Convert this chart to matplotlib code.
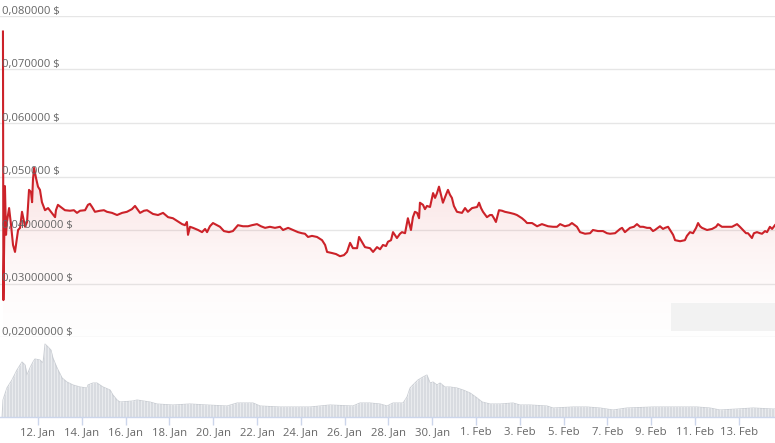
import numpy as np
import matplotlib
matplotlib.use('Agg')
import matplotlib.pyplot as plt
from matplotlib.colors import LinearSegmentedColormap
from matplotlib.patches import Rectangle

plt.rcParams['font.family'] = ['Open Sans', 'DejaVu Sans']

# time axis: days counted from 12 Jan 00:00
price_days = [-1.60, -1.58, -1.51, -1.46, -1.42, -1.32, -1.23, -1.14, -1.05, -0.91,
              -0.82, -0.73, -0.59, -0.50, -0.41, -0.32, -0.27, -0.23, -0.18, -0.09,
              0.00, 0.09, 0.18, 0.32, 0.46, 0.59, 0.78, 0.82, 0.91, 1.10,
              1.23, 1.46, 1.64, 1.78, 1.92, 2.15, 2.28, 2.37, 2.47, 2.60,
              2.83, 3.01, 3.15, 3.38, 3.61, 3.84, 4.06, 4.29, 4.43, 4.66,
              4.84, 4.98, 5.25, 5.48, 5.71, 5.94, 6.16, 6.35, 6.58, 6.71,
              6.80, 6.85, 6.94, 7.08, 7.31, 7.49, 7.63, 7.72, 7.85, 7.99,
              8.17, 8.31, 8.49, 8.72, 8.90, 9.13, 9.36, 9.59, 9.77, 10.00,
              10.18, 10.37, 10.59, 10.82, 11.05, 11.19, 11.42, 11.64, 11.87, 12.05,
              12.19, 12.33, 12.51, 12.74, 12.97, 13.11, 13.20, 13.42, 13.61, 13.79,
              13.97, 14.11, 14.25, 14.38, 14.57, 14.66, 14.79, 14.93, 15.16, 15.30,
              15.48, 15.62, 15.75, 15.89, 15.98, 16.12, 16.21, 16.39, 16.53, 16.62,
              16.76, 16.89, 17.03, 17.12, 17.21, 17.31, 17.40, 17.44, 17.58, 17.67,
              17.76, 17.90, 18.04, 18.13, 18.22, 18.31, 18.40, 18.49, 18.63, 18.72,
              18.81, 18.90, 18.99, 19.13, 19.36, 19.50, 19.63, 19.82, 20.05, 20.14,
              20.23, 20.32, 20.50, 20.64, 20.73, 20.82, 20.91, 21.05, 21.19, 21.32,
              21.55, 21.74, 21.87, 22.10, 22.24, 22.33, 22.56, 22.79, 23.01, 23.29,
              23.52, 23.70, 23.84, 24.06, 24.25, 24.38, 24.61, 24.75, 24.98, 25.21,
              25.34, 25.57, 25.80, 25.98, 26.12, 26.35, 26.58, 26.67, 26.80, 27.03,
              27.21, 27.35, 27.49, 27.63, 27.81, 27.95, 28.08, 28.17, 28.40, 28.54,
              28.63, 28.77, 28.86, 29.00, 29.09, 29.32, 29.54, 29.63, 29.77, 29.91,
              30.05, 30.14, 30.23, 30.32, 30.55, 30.78, 30.96, 31.05, 31.23, 31.46,
              31.69, 31.92, 32.05, 32.19, 32.33, 32.42, 32.60, 32.69, 32.83, 32.97,
              33.06, 33.20, 33.29, 33.42, 33.52, 33.65]
price = [0.0771, 0.0269, 0.0482, 0.0391, 0.0415, 0.0441, 0.0409, 0.0372, 0.0359, 0.0400,
         0.0404, 0.0434, 0.0406, 0.0415, 0.0475, 0.0471, 0.0452, 0.0494, 0.0516, 0.0497,
         0.0481, 0.0475, 0.0452, 0.0437, 0.0441, 0.0434, 0.0424, 0.0437, 0.0447, 0.0441,
         0.0437, 0.0436, 0.0437, 0.0432, 0.0436, 0.0437, 0.0447, 0.0449, 0.0443, 0.0434,
         0.0436, 0.0437, 0.0434, 0.0432, 0.0428, 0.0432, 0.0434, 0.0439, 0.0445, 0.0432,
         0.0436, 0.0437, 0.0430, 0.0428, 0.0432, 0.0424, 0.0422, 0.0417, 0.0411, 0.0409,
         0.0415, 0.0391, 0.0406, 0.0404, 0.0400, 0.0396, 0.0402, 0.0396, 0.0407, 0.0413,
         0.0409, 0.0406, 0.0398, 0.0396, 0.0398, 0.0409, 0.0407, 0.0407, 0.0409, 0.0411,
         0.0407, 0.0404, 0.0406, 0.0404, 0.0406, 0.0400, 0.0404, 0.0400, 0.0396, 0.0394,
         0.0393, 0.0387, 0.0389, 0.0387, 0.0381, 0.0372, 0.0359, 0.0357, 0.0355, 0.0351,
         0.0353, 0.0359, 0.0376, 0.0366, 0.0366, 0.0387, 0.0378, 0.0368, 0.0366, 0.0359,
         0.0368, 0.0364, 0.0372, 0.0370, 0.0378, 0.0381, 0.0396, 0.0385, 0.0393, 0.0396,
         0.0394, 0.0422, 0.0400, 0.0424, 0.0434, 0.0432, 0.0422, 0.0451, 0.0447, 0.0439,
         0.0445, 0.0443, 0.0469, 0.0460, 0.0469, 0.0481, 0.0466, 0.0451, 0.0466, 0.0475,
         0.0466, 0.0460, 0.0445, 0.0434, 0.0432, 0.0441, 0.0434, 0.0441, 0.0443, 0.0451,
         0.0441, 0.0434, 0.0424, 0.0428, 0.0428, 0.0422, 0.0415, 0.0437, 0.0436, 0.0434,
         0.0432, 0.0430, 0.0428, 0.0422, 0.0417, 0.0413, 0.0413, 0.0407, 0.0411, 0.0407,
         0.0406, 0.0406, 0.0411, 0.0407, 0.0409, 0.0413, 0.0406, 0.0396, 0.0393, 0.0394,
         0.0400, 0.0398, 0.0398, 0.0394, 0.0393, 0.0394, 0.0402, 0.0404, 0.0396, 0.0404,
         0.0406, 0.0411, 0.0406, 0.0406, 0.0404, 0.0404, 0.0398, 0.0400, 0.0407, 0.0402,
         0.0404, 0.0406, 0.0400, 0.0391, 0.0381, 0.0379, 0.0381, 0.0389, 0.0396, 0.0394,
         0.0404, 0.0413, 0.0407, 0.0404, 0.0400, 0.0402, 0.0406, 0.0411, 0.0406, 0.0406,
         0.0406, 0.0411, 0.0406, 0.0400, 0.0394, 0.0394, 0.0385, 0.0394, 0.0396, 0.0394,
         0.0393, 0.0398, 0.0396, 0.0406, 0.0402, 0.0409]

vol_days = [-1.64, -1.60, -1.42, -1.19, -0.96, -0.73, -0.59, -0.50, -0.37, -0.23,
            -0.14, 0.09, 0.23, 0.32, 0.46, 0.59, 0.68, 0.87, 1.10, 1.32,
            1.60, 1.92, 2.24, 2.28, 2.51, 2.69, 2.97, 3.29, 3.42, 3.61,
            3.74, 4.34, 4.52, 5.11, 5.43, 6.16, 6.94, 7.72, 8.63, 9.09,
            9.82, 10.14, 11.05, 11.51, 12.42, 13.33, 14.38, 14.70, 15.16, 15.62,
            15.94, 16.21, 16.67, 16.85, 16.99, 17.12, 17.35, 17.58, 17.76, 17.90,
            18.04, 18.22, 18.36, 18.58, 18.81, 19.13, 19.41, 19.73, 20.05, 20.28,
            20.64, 21.10, 21.69, 22.01, 22.47, 23.24, 23.52, 24.43, 25.07, 25.66,
            26.26, 26.89, 28.08, 28.86, 30.09, 30.68, 31.14, 31.92, 32.65, 33.56,
            33.65]
volume = [0, 17, 29, 37, 47, 55, 52, 42, 49, 55,
          58, 57, 54, 73, 70, 67, 59, 49, 39, 35,
          32, 30, 29, 32, 34, 34, 30, 27, 22, 17,
          15, 16, 17, 15, 13, 12, 13, 12, 11, 14,
          14, 11, 10, 10, 10, 12, 11, 14, 14, 13,
          11, 14, 14, 20, 29, 32, 37, 40, 42, 34,
          35, 32, 34, 30, 30, 29, 27, 24, 19, 15,
          13, 13, 14, 12, 12, 11, 9, 10, 10, 9,
          7, 9, 10, 10, 10, 9, 7, 8, 9, 8,
          8]

tick_days = list(range(0, 33, 2))
tick_labels = ['12. Jan', '14. Jan', '16. Jan', '18. Jan', '20. Jan', '22. Jan',
               '24. Jan', '26. Jan', '28. Jan', '30. Jan', '1. Feb', '3. Feb',
               '5. Feb', '7. Feb', '9. Feb', '11. Feb', '13. Feb']
price_ticks = [0.02, 0.03, 0.04, 0.05, 0.06, 0.07, 0.08]
price_labels = ['0,02000000 $', '0,03000000 $', '0,04000000 $', '0,050000 $',
                '0,060000 $', '0,070000 $', '0,080000 $']

W, H = 775, 443
x0, x1 = -38 / 21.9, 737 / 21.9
fig = plt.figure(figsize=(W / 100, H / 100), dpi=100)

ax = fig.add_axes([0, (H - 337) / H, 1, (337 - 16) / H])
axv = fig.add_axes([0, (H - 417) / H, 1, 80 / H])

# price panel
for t in price_ticks:
    ax.axhline(t, color='#e6e6e6', lw=1, zorder=0)
for t, lab in zip(price_ticks, price_labels):
    ax.annotate(lab, (0, t), xycoords=('axes fraction', 'data'), xytext=(1.5, 1.5),
                textcoords='offset points', ha='left', va='baseline',
                fontsize=8.1, color='#666666', zorder=5)

poly = ax.fill_between(price_days, price, 0.02, color='none', lw=0)
cmap = LinearSegmentedColormap.from_list('fade', [(1, 1, 1, 0), (0.85, 0.12, 0.12, 0.13)])
grad = np.linspace(0.15, 1, 256).reshape(-1, 1)
im = ax.imshow(grad, extent=[x0, x1, 0.02, 0.05], origin='lower', aspect='auto',
               cmap=cmap, vmin=0, vmax=1, zorder=1)
im.set_clip_path(poly.get_paths()[0], transform=ax.transData)
ax.plot(price_days, price, color='#cc2229', lw=1.5, zorder=3, solid_joinstyle='round')

ax.set_xlim(x0, x1)
ax.set_ylim(0.02, 0.08)
ax.axis('off')

# volume panel
vpoly = axv.fill_between(vol_days, volume, 0, color='#d8dbe0', lw=0)
axv.plot(vol_days, volume, color='#c9cdd3', lw=0.7)
stripes = axv.vlines(np.arange(x0, x1, 3 / 21.9), 0, 80, color='white', lw=0.6, alpha=0.55)
stripes.set_clip_path(vpoly.get_paths()[0], transform=axv.transData)
axv.set_xlim(x0, x1)
axv.set_ylim(0, 80)
axv.set_yticks([])
for s in ['top', 'left', 'right']:
    axv.spines[s].set_visible(False)
axv.spines['bottom'].set_color('#ccd6eb')
axv.spines['bottom'].set_linewidth(1)
axv.set_xticks(tick_days)
axv.set_xticklabels(tick_labels)
axv.tick_params(axis='x', length=6, width=1, color='#ccd6eb', pad=1.5,
                labelsize=8.1, labelcolor='#666666')
axv.patch.set_alpha(0)

# blurred watermark box
fig.patches.append(Rectangle((671 / W, (H - 331) / H), 104 / W, 28 / H,
                             transform=fig.transFigure, facecolor='#f2f2f2',
                             edgecolor='none', zorder=0))

fig.savefig('out.png', dpi=100)
